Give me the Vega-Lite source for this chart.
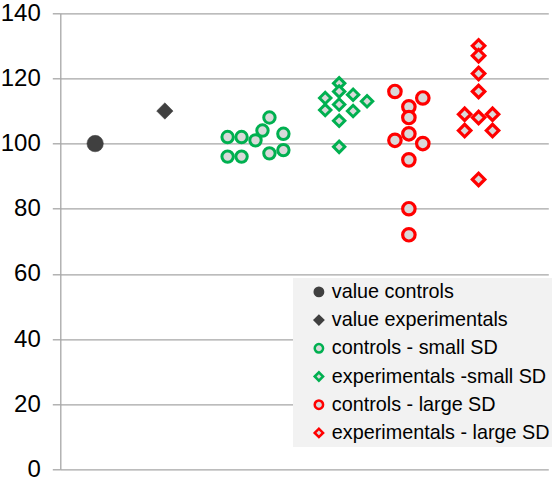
{
  "$schema": "https://vega.github.io/schema/vega-lite/v6.json",
  "autosize": {"type": "none"},
  "width": 488,
  "height": 456,
  "padding": {"left": 60.3, "top": 13.3, "right": 3.7, "bottom": 13.7},
  "background": "white",
  "config": {
    "view": {"stroke": null},
    "font": "Liberation Sans",
    "legend": {
      "orient": "none", "legendX": 232.7, "legendY": 264.7,
      "fillColor": "#f2f2f2", "padding": 4, "labelFontSize": 19.8, "labelFont": "Liberation Sans",
      "labelColor": "#000000", "symbolSize": 70, "symbolStrokeWidth": 2.5, "rowPadding": 7.2, "symbolOffset": 12,
      "labelOffset": 3, "labelLimit": 400
    }
  },
  "data": {
    "values": [
      {"series": "value controls", "x": 0.5, "y": 100},
      {"series": "value experimentals", "x": 1.5, "y": 110},
      {"series": "controls - small SD", "x": 2.4, "y": 102},
      {"series": "controls - small SD", "x": 2.6, "y": 102},
      {"series": "controls - small SD", "x": 2.4, "y": 96},
      {"series": "controls - small SD", "x": 2.6, "y": 96},
      {"series": "controls - small SD", "x": 2.8, "y": 101},
      {"series": "controls - small SD", "x": 2.9, "y": 104},
      {"series": "controls - small SD", "x": 3.0, "y": 108},
      {"series": "controls - small SD", "x": 3.0, "y": 97},
      {"series": "controls - small SD", "x": 3.2, "y": 103},
      {"series": "controls - small SD", "x": 3.2, "y": 98},
      {"series": "experimentals -small SD", "x": 4.0, "y": 118.5},
      {"series": "experimentals -small SD", "x": 4.0, "y": 116},
      {"series": "experimentals -small SD", "x": 3.8, "y": 114},
      {"series": "experimentals -small SD", "x": 4.2, "y": 115},
      {"series": "experimentals -small SD", "x": 4.4, "y": 113},
      {"series": "experimentals -small SD", "x": 4.0, "y": 112},
      {"series": "experimentals -small SD", "x": 3.8, "y": 110.3},
      {"series": "experimentals -small SD", "x": 4.2, "y": 110},
      {"series": "experimentals -small SD", "x": 4.0, "y": 107},
      {"series": "experimentals -small SD", "x": 4.0, "y": 99},
      {"series": "controls - large SD", "x": 4.8, "y": 116},
      {"series": "controls - large SD", "x": 5.2, "y": 114},
      {"series": "controls - large SD", "x": 5.0, "y": 111.3},
      {"series": "controls - large SD", "x": 5.0, "y": 108},
      {"series": "controls - large SD", "x": 5.0, "y": 103},
      {"series": "controls - large SD", "x": 4.8, "y": 101},
      {"series": "controls - large SD", "x": 5.2, "y": 100},
      {"series": "controls - large SD", "x": 5.0, "y": 95},
      {"series": "controls - large SD", "x": 5.0, "y": 80},
      {"series": "controls - large SD", "x": 5.0, "y": 72},
      {"series": "experimentals - large SD", "x": 6.0, "y": 130},
      {"series": "experimentals - large SD", "x": 6.0, "y": 127},
      {"series": "experimentals - large SD", "x": 6.0, "y": 121.5},
      {"series": "experimentals - large SD", "x": 6.0, "y": 116},
      {"series": "experimentals - large SD", "x": 5.8, "y": 109},
      {"series": "experimentals - large SD", "x": 6.0, "y": 108},
      {"series": "experimentals - large SD", "x": 6.2, "y": 109},
      {"series": "experimentals - large SD", "x": 5.8, "y": 104},
      {"series": "experimentals - large SD", "x": 6.2, "y": 104},
      {"series": "experimentals - large SD", "x": 6.0, "y": 89}
    ]
  },
  "encoding": {
    "x": {"field": "x", "type": "quantitative", "scale": {"domain": [0, 7], "nice": false, "zero": false}, "axis": null},
    "y": {
      "field": "y", "type": "quantitative",
      "scale": {"domain": [0, 140], "nice": false},
      "axis": {
        "title": null,
        "values": [0, 20, 40, 60, 80, 100, 120, 140],
        "grid": true,
        "gridColor": "#a6a6a6",
        "gridWidth": 1.3,
        "domainColor": "#a6a6a6",
        "domainWidth": 1.3,
        "tickColor": "#a6a6a6",
        "tickWidth": 1.3,
        "tickSize": 8,
        "labelPadding": 12,
        "labelFontSize": 24,
        "labelFont": "Liberation Sans",
        "labelColor": "#000000"
      }
    },
    "shape": {
      "field": "series", "type": "nominal",
      "scale": {
        "domain": ["value controls", "value experimentals", "controls - small SD", "experimentals -small SD", "controls - large SD", "experimentals - large SD"],
        "range": ["circle", "diamond", "circle", "diamond", "circle", "diamond"]
      },
      "legend": {"title": null}
    },
    "fill": {
      "field": "series", "type": "nominal",
      "scale": {
        "domain": ["value controls", "value experimentals", "controls - small SD", "experimentals -small SD", "controls - large SD", "experimentals - large SD"],
        "range": ["#404040", "#404040", "#d9d9d9", "#d9d9d9", "#d9d9d9", "#d9d9d9"]
      },
      "legend": {"title": null}
    },
    "stroke": {
      "field": "series", "type": "nominal",
      "scale": {
        "domain": ["value controls", "value experimentals", "controls - small SD", "experimentals -small SD", "controls - large SD", "experimentals - large SD"],
        "range": ["#404040", "#404040", "#00b050", "#00b050", "#ff0000", "#ff0000"]
      },
      "legend": {"title": null}
    }
  },
  "layer": [
    {
      "transform": [{"filter": "datum.series === 'value controls' || datum.series === 'value experimentals'"}],
      "mark": {"type": "point", "filled": false, "opacity": 1, "strokeWidth": 0.5, "size": 270}
    },
    {
      "transform": [{"filter": "datum.series === 'controls - small SD' || datum.series === 'experimentals -small SD'"}],
      "mark": {"type": "point", "filled": false, "opacity": 1, "strokeWidth": 3, "size": 130}
    },
    {
      "transform": [{"filter": "datum.series === 'controls - large SD' || datum.series === 'experimentals - large SD'"}],
      "mark": {"type": "point", "filled": false, "opacity": 1, "strokeWidth": 3.2, "size": 155}
    }
  ]
}
